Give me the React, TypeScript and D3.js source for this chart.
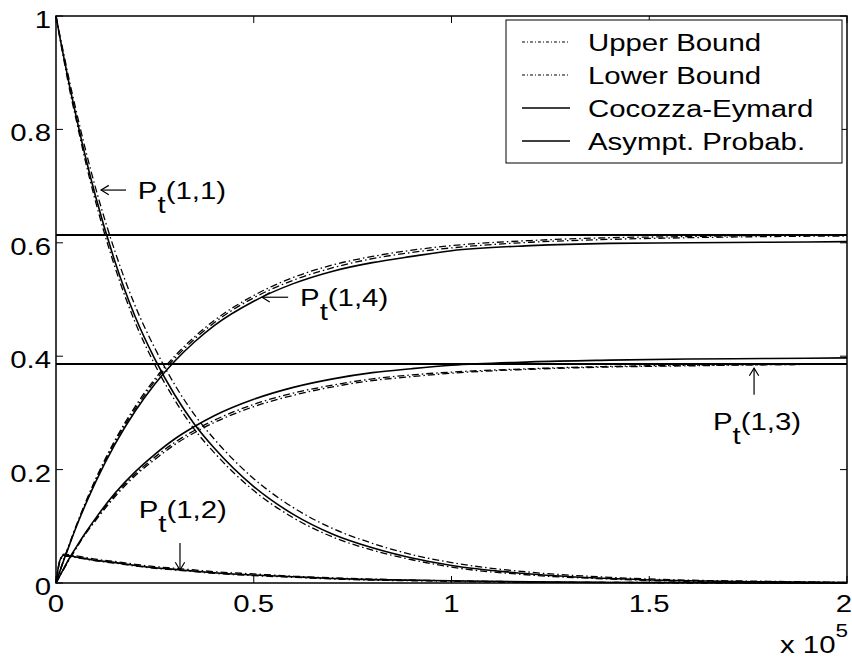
import React from "react";
import * as d3 from "d3";

const W = 852;
const H = 659;
const margin = { top: 16, right: 5, bottom: 76, left: 56 };
const SX = 1.25; // the original figure is stretched horizontally
const FS = 23.5;

// time, in units of 1e5
const tGrid = [0, 0.01, 0.02, 0.035, 0.05, 0.075, 0.1, 0.15, 0.2, 0.25, 0.3, 0.35, 0.4, 0.5, 0.6, 0.7, 0.8, 0.9, 1.0, 1.2, 1.4, 1.6, 1.8, 2.0];

// P_t(1,1)
const p11Upper = [1.0, 0.965, 0.932, 0.882, 0.836, 0.763, 0.697, 0.583, 0.489, 0.414, 0.35, 0.297, 0.254, 0.184, 0.133, 0.096, 0.07, 0.05, 0.036, 0.019, 0.01, 0.005, 0.003, 0.001];
const p11Lower = [1.0, 0.96, 0.922, 0.868, 0.82, 0.742, 0.673, 0.555, 0.46, 0.385, 0.323, 0.271, 0.23, 0.163, 0.115, 0.081, 0.058, 0.041, 0.028, 0.014, 0.007, 0.003, 0.002, 0.001];
const p11Coco = [1.0, 0.962, 0.926, 0.874, 0.826, 0.75, 0.682, 0.565, 0.47, 0.395, 0.332, 0.28, 0.238, 0.17, 0.121, 0.086, 0.062, 0.044, 0.031, 0.016, 0.008, 0.004, 0.002, 0.001];

// P_t(1,2)
const p12Upper = [0, 0.041, 0.051, 0.05, 0.048, 0.045, 0.042, 0.038, 0.033, 0.029, 0.026, 0.023, 0.02, 0.016, 0.012, 0.009, 0.007, 0.005, 0.004, 0.002, 0.001, 0.001, 0, 0];
const p12Lower = [0, 0.038, 0.047, 0.047, 0.045, 0.042, 0.039, 0.035, 0.03, 0.026, 0.023, 0.02, 0.017, 0.013, 0.01, 0.007, 0.005, 0.004, 0.003, 0.001, 0.001, 0, 0, 0];
const p12Coco = [0, 0.04, 0.049, 0.048, 0.046, 0.043, 0.04, 0.036, 0.031, 0.027, 0.024, 0.021, 0.018, 0.014, 0.011, 0.008, 0.006, 0.005, 0.004, 0.002, 0.001, 0.001, 0, 0];

// P_t(1,3)
const p13Upper = [0, 0.013, 0.026, 0.044, 0.061, 0.088, 0.112, 0.156, 0.192, 0.222, 0.248, 0.269, 0.287, 0.315, 0.335, 0.349, 0.36, 0.367, 0.372, 0.378, 0.382, 0.384, 0.385, 0.386];
const p13Lower = [0, 0.013, 0.025, 0.043, 0.06, 0.087, 0.11, 0.153, 0.189, 0.218, 0.244, 0.265, 0.283, 0.311, 0.331, 0.346, 0.357, 0.364, 0.37, 0.377, 0.381, 0.383, 0.385, 0.386];
const p13Coco = [0, 0.013, 0.026, 0.045, 0.062, 0.089, 0.114, 0.159, 0.196, 0.227, 0.254, 0.276, 0.295, 0.324, 0.345, 0.36, 0.371, 0.378, 0.384, 0.39, 0.393, 0.395, 0.396, 0.397];

// P_t(1,4)
const p14Upper = [0, 0.021, 0.042, 0.071, 0.099, 0.143, 0.183, 0.253, 0.311, 0.36, 0.4, 0.434, 0.463, 0.507, 0.539, 0.561, 0.576, 0.587, 0.595, 0.604, 0.609, 0.611, 0.613, 0.614];
const p14Lower = [0, 0.021, 0.041, 0.07, 0.098, 0.141, 0.181, 0.25, 0.307, 0.356, 0.396, 0.43, 0.459, 0.503, 0.534, 0.556, 0.572, 0.583, 0.591, 0.601, 0.606, 0.609, 0.611, 0.612];
const p14Coco = [0, 0.021, 0.041, 0.069, 0.097, 0.139, 0.178, 0.246, 0.303, 0.351, 0.391, 0.425, 0.454, 0.497, 0.528, 0.55, 0.565, 0.576, 0.586, 0.595, 0.599, 0.6, 0.601, 0.602];

const asymptotes = [0.6137, 0.3863];

const xTicks = [0, 0.5, 1, 1.5, 2];
const xTickLabels = ["0", "0.5", "1", "1.5", "2"];
const yTicks = [0, 0.2, 0.4, 0.6, 0.8, 1];
const yTickLabels = ["0", "0.2", "0.4", "0.6", "0.8", "1"];

const legendLabels = ["Upper Bound", "Lower Bound", "Cocozza-Eymard", "Asympt. Probab."];

// annotation: arrow tip, arrow tail, text start (data coords)
const annotations = [
  { label: "(1,1)", tip: [0.114, 0.693], tail: [0.177, 0.693], text: [0.207, 0.677] },
  { label: "(1,4)", tip: [0.521, 0.504], tail: [0.587, 0.504], text: [0.617, 0.4885] },
  { label: "(1,3)", tip: [1.765, 0.379], tail: [1.765, 0.332], text: [1.661, 0.27] },
  { label: "(1,2)", tip: [0.3135, 0.023], tail: [0.3135, 0.0705], text: [0.209, 0.1146] },
];

const DASHDOT = "7,3,1.5,3";

const Txt = ({ x, y, anchor = "start", size = FS, children }: any) => (
  <text
    transform={`translate(${x},${y}) scale(${SX},1)`}
    textAnchor={anchor}
    fontSize={size}
    fontFamily="'Liberation Sans', Arial, Helvetica, sans-serif"
    fill="#000"
  >
    {children}
  </text>
);

export default function App() {
  const x = d3.scaleLinear().domain([0, 2]).range([margin.left, W - margin.right]);
  const y = d3.scaleLinear().domain([0, 1]).range([H - margin.bottom, margin.top]);

  const line = d3
    .line<number>()
    .x((_, i) => x(tGrid[i]))
    .y((d) => y(d))
    .curve(d3.curveMonotoneX);

  const bounds = [p11Upper, p11Lower, p12Upper, p12Lower, p13Upper, p13Lower, p14Upper, p14Lower];
  const cocos = [p11Coco, p12Coco, p13Coco, p14Coco];

  const [x0, x1] = x.range();
  const [y0, y1] = y.range();
  const tick = 7;

  const arrowHead = (tip: number[], tail: number[]) => {
    const tx = x(tip[0]), ty = y(tip[1]);
    const ang = Math.atan2(y(tail[1]) - ty, x(tail[0]) - tx);
    const len = 9, spread = 0.55;
    const a = [tx + len * Math.cos(ang - spread), ty + len * Math.sin(ang - spread)];
    const b = [tx + len * Math.cos(ang + spread), ty + len * Math.sin(ang + spread)];
    return `M${a[0]},${a[1]}L${tx},${ty}L${b[0]},${b[1]}`;
  };

  return (
    <svg width={W} height={H} style={{ position: "absolute", left: 0, top: 0, background: "#fff" }}>
      <rect x={0} y={0} width={W} height={H} fill="#fff" />

      {/* ticks, inside on all four sides */}
      <g stroke="#000" strokeWidth={1}>
        {xTicks.map((t) => (
          <g key={"xt" + t}>
            <line x1={x(t)} x2={x(t)} y1={y0} y2={y0 - tick} />
            <line x1={x(t)} x2={x(t)} y1={y1} y2={y1 + tick} />
          </g>
        ))}
        {yTicks.map((t) => (
          <g key={"yt" + t}>
            <line x1={x0} x2={x0 + tick} y1={y(t)} y2={y(t)} />
            <line x1={x1} x2={x1 - tick} y1={y(t)} y2={y(t)} />
          </g>
        ))}
      </g>

      {/* asymptotic probabilities */}
      {asymptotes.map((a) => (
        <line key={"as" + a} x1={x0} x2={x1} y1={y(a)} y2={y(a)} stroke="#000" strokeWidth={2} />
      ))}

      {/* bounds */}
      {bounds.map((s, i) => (
        <path key={"b" + i} d={line(s) || ""} fill="none" stroke="#000" strokeWidth={1.3} strokeDasharray={DASHDOT} />
      ))}

      {/* Cocozza-Eymard */}
      {cocos.map((s, i) => (
        <path key={"c" + i} d={line(s) || ""} fill="none" stroke="#000" strokeWidth={1.6} />
      ))}

      {/* axes box */}
      <rect x={x0} y={y1} width={x1 - x0} height={y0 - y1} fill="none" stroke="#000" strokeWidth={1.5} />

      {/* tick labels */}
      {xTicks.map((t, i) => (
        <Txt key={"xl" + t} x={Math.min(x(t), W - 8)} y={y0 + 29} anchor="middle">
          {xTickLabels[i]}
        </Txt>
      ))}
      {yTicks.map((t, i) => (
        <Txt key={"yl" + t} x={51} y={y(t) + 12} anchor="end">
          {yTickLabels[i]}
        </Txt>
      ))}
      <Txt x={780} y={653}>
        x 10
        <tspan dy={-16} fontSize={18}>5</tspan>
      </Txt>

      {/* annotations */}
      {annotations.map((a) => (
        <g key={a.label}>
          <line x1={x(a.tip[0])} y1={y(a.tip[1])} x2={x(a.tail[0])} y2={y(a.tail[1])} stroke="#000" strokeWidth={1.2} />
          <path d={arrowHead(a.tip, a.tail)} fill="none" stroke="#000" strokeWidth={1.2} />
          <Txt x={x(a.text[0])} y={y(a.text[1])}>
            P<tspan dy={14}>t</tspan>
            <tspan dy={-14}>{a.label}</tspan>
          </Txt>
        </g>
      ))}

      {/* legend */}
      <g>
        <rect x={506} y={20} width={336} height={143} fill="#fff" stroke="#000" strokeWidth={1} />
        {legendLabels.map((l, i) => {
          const ly = 42 + i * 33;
          return (
            <g key={l}>
              <line
                x1={522}
                x2={570}
                y1={ly}
                y2={ly}
                stroke="#000"
                strokeWidth={i < 2 ? 1 : 1.5}
                strokeDasharray={i < 2 ? "3,2,1,2" : undefined}
              />
              <Txt x={588} y={ly + 8.5}>
                {l}
              </Txt>
            </g>
          );
        })}
      </g>
    </svg>
  );
}
